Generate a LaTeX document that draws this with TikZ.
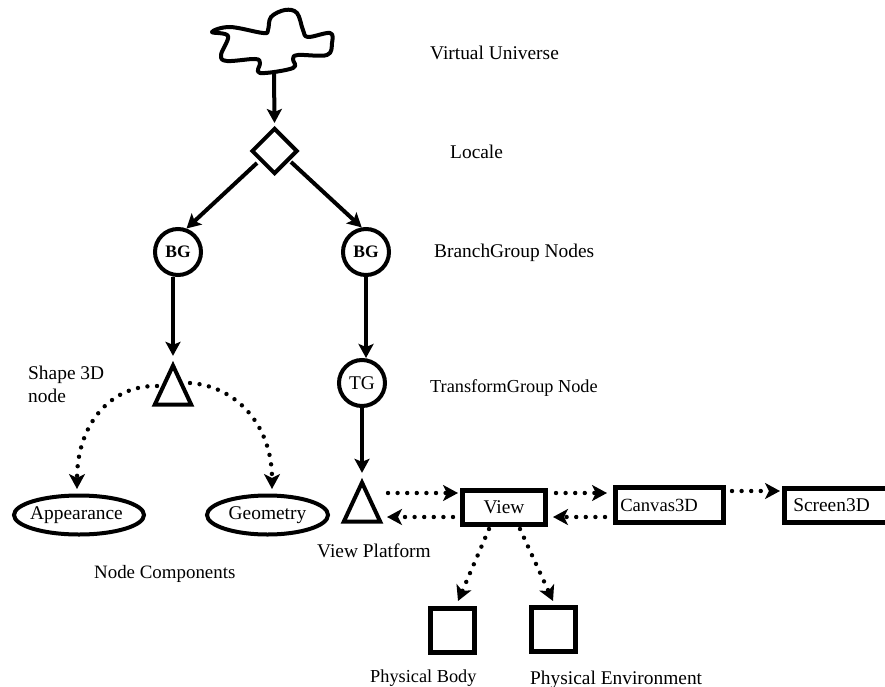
\documentclass[tikz,border=0pt]{standalone}
\usepackage{fontspec}
\setmainfont{Liberation Serif}
\usetikzlibrary{arrows.meta,shapes.geometric}
\tikzset{
  solidline/.style={line width=4pt,-{Stealth[length=14pt,width=15pt,inset=3pt]}},
  dotline/.style={line width=4.4pt,line cap=round,dash pattern=on 0pt off 9.6pt,-{Stealth[length=15pt,width=16pt,inset=4pt]}},
  groupnode/.style={circle,draw,line width=4pt,inner sep=0pt,minimum size=46pt},
  triangle/.style={isosceles triangle,shape border rotate=90,isosceles triangle apex angle=50,draw,line width=4pt,inner sep=0pt,minimum height=39pt},
  oval/.style={ellipse,draw,line width=4pt,inner sep=0pt,minimum height=39pt},
  objbox/.style={rectangle,draw,line width=5pt,inner sep=0pt},
  caption/.style={anchor=base west,inner sep=0pt},
  smallcaption/.style={caption,font=\fontsize{18.3}{22}\selectfont},
}
\begin{document}
\begin{tikzpicture}[x=1pt,y=-1pt,font=\fontsize{19.4}{23}\selectfont]
 \useasboundingbox (0,0) rectangle (885,687);
 \clip (0,0) rectangle (885,687);
  % cloud on top
  \draw[line width=4pt,line join=round] plot[smooth cycle,tension=0.6] coordinates {(212,32) (230,27) (263,33) (268,30) (271,17) (285,10) (297,13) (303,30) (308,37) (330,33) (332,43) (327,55) (298,55) (293,59) (293,68) (260,73) (260,63) (255,59) (227,61) (221,55) (228,36)};
  \node[diamond,draw,line width=4pt,inner sep=0pt,minimum size=46pt] (locale) at (274.5,151) {};
  \node[groupnode] (bgleft) at (178,252) {\fontsize{17.5}{20}\selectfont\textbf{BG}};
  \node[groupnode] (bgright) at (366,252) {\fontsize{17.5}{20}\selectfont\textbf{BG}};
  \node[groupnode] (tg) at (362,383) {TG};
  \node[triangle] (shape) at (173,393) {};
  \node[triangle] (platform) at (362,510) {};
  \node[oval,minimum width=130pt] (appearance) at (79,515) {\makebox[0pt]{Appearance\kern5pt\relax}};
  \node[oval,minimum width=121pt] (geometry) at (267.5,515) {\makebox[0pt]{\raisebox{3pt}{Geometry}}};
  \node[objbox,minimum width=83pt,minimum height=34pt] (view) at (504,507.5) {View};
  \node[objbox,minimum width=108pt,minimum height=35pt] (canvas) at (669.5,505) {\fontsize{18.6}{22}\selectfont Canvas3D\kern21pt\relax};
  \node[objbox,minimum width=115pt,minimum height=34pt] (screen) at (842,505.5) {\raisebox{-1pt}{Screen3D}\kern21pt\relax};
  \node[objbox,minimum size=44pt] (body) at (452.5,630.5) {};
  \node[objbox,minimum size=44pt] (environment) at (553.5,629.5) {};
  % free ends of the arrows
  \coordinate (cloudend) at (274,73);
  \coordinate (localeleft) at (257,163);
  \coordinate (localeright) at (291,162);
  \coordinate (shapeleft) at (157,386);
  \coordinate (shaperight) at (190,383);
  \coordinate (appearancein) at (77,489);
  \coordinate (geometryin) at (272,489);
  \coordinate (platformout) at (388,493);
  \coordinate (platformin) at (387,517);
  \coordinate (viewout) at (453,517);
  \coordinate (viewright) at (556,493);
  \coordinate (canvasin) at (607,493);
  \coordinate (canvasout) at (605,517);
  \coordinate (viewback) at (553,517);
  \coordinate (canvasright) at (732,491);
  \coordinate (viewbody) at (489,529);
  \coordinate (viewenv) at (520,529);
  \coordinate (bodyin) at (458,601);
  \coordinate (envin) at (553,601);
  % solid arrows
  \draw[solidline] (cloudend) -- ([yshift=3pt]locale.north);
  \draw[solidline] (localeleft) -- (bgleft.70);
  \draw[solidline] (localeright) -- (bgright.100);
  \draw[solidline] (bgleft.south -| shape.apex) -- ([yshift=5pt]shape.apex);
  \draw[solidline] (bgright.south) -- (tg.north -| bgright.south);
  \draw[solidline] (tg.south) -- ([yshift=5pt]platform.apex);
  % dotted arrows
  \draw[dotline] (shapeleft) .. controls (110,385) and (77,425) .. (appearancein);
  \draw[dotline] (shaperight) .. controls (236,386) and (272,425) .. (geometryin);
  \draw[dotline] (platformout) -- ([yshift=14.5pt,xshift=-2pt]view.west);
  \draw[dotline] (viewout) -- (platformin);
  \draw[dotline] (viewright) -- (canvasin);
  \draw[dotline] (canvasout) -- (viewback);
  \draw[dotline] (canvasright) -- ([yshift=14.5pt,xshift=-2pt]screen.west);
  \draw[dotline] (viewbody) -- (bodyin);
  \draw[dotline] (viewenv) -- (envin);
  % captions
  \node[caption] (universelabel) at (430,60) {Virtual Universe};
  \node[caption] (localelabel) at (450,159) {Locale};
  \node[caption] (branchlabel) at (434,257) {BranchGroup Nodes};
  \node[smallcaption] (transformlabel) at (430,392) {TransformGroup Node};
  \node[caption] (shapelabel) at (28,379) {Shape 3D};
  \node[caption] (nodelabel) at (28,402) {node};
  \node[caption,font=\fontsize{18.9}{22}\selectfont] (componentlabel) at (94,578) {Node Components};
  \node[caption] (platformlabel) at (317,557) {View Platform};
  \node[smallcaption] (bodylabel) at (370,682) {Physical Body};
  \node[caption] (environmentlabel) at (530,684) {Physical Environment};
\end{tikzpicture}
\end{document}
